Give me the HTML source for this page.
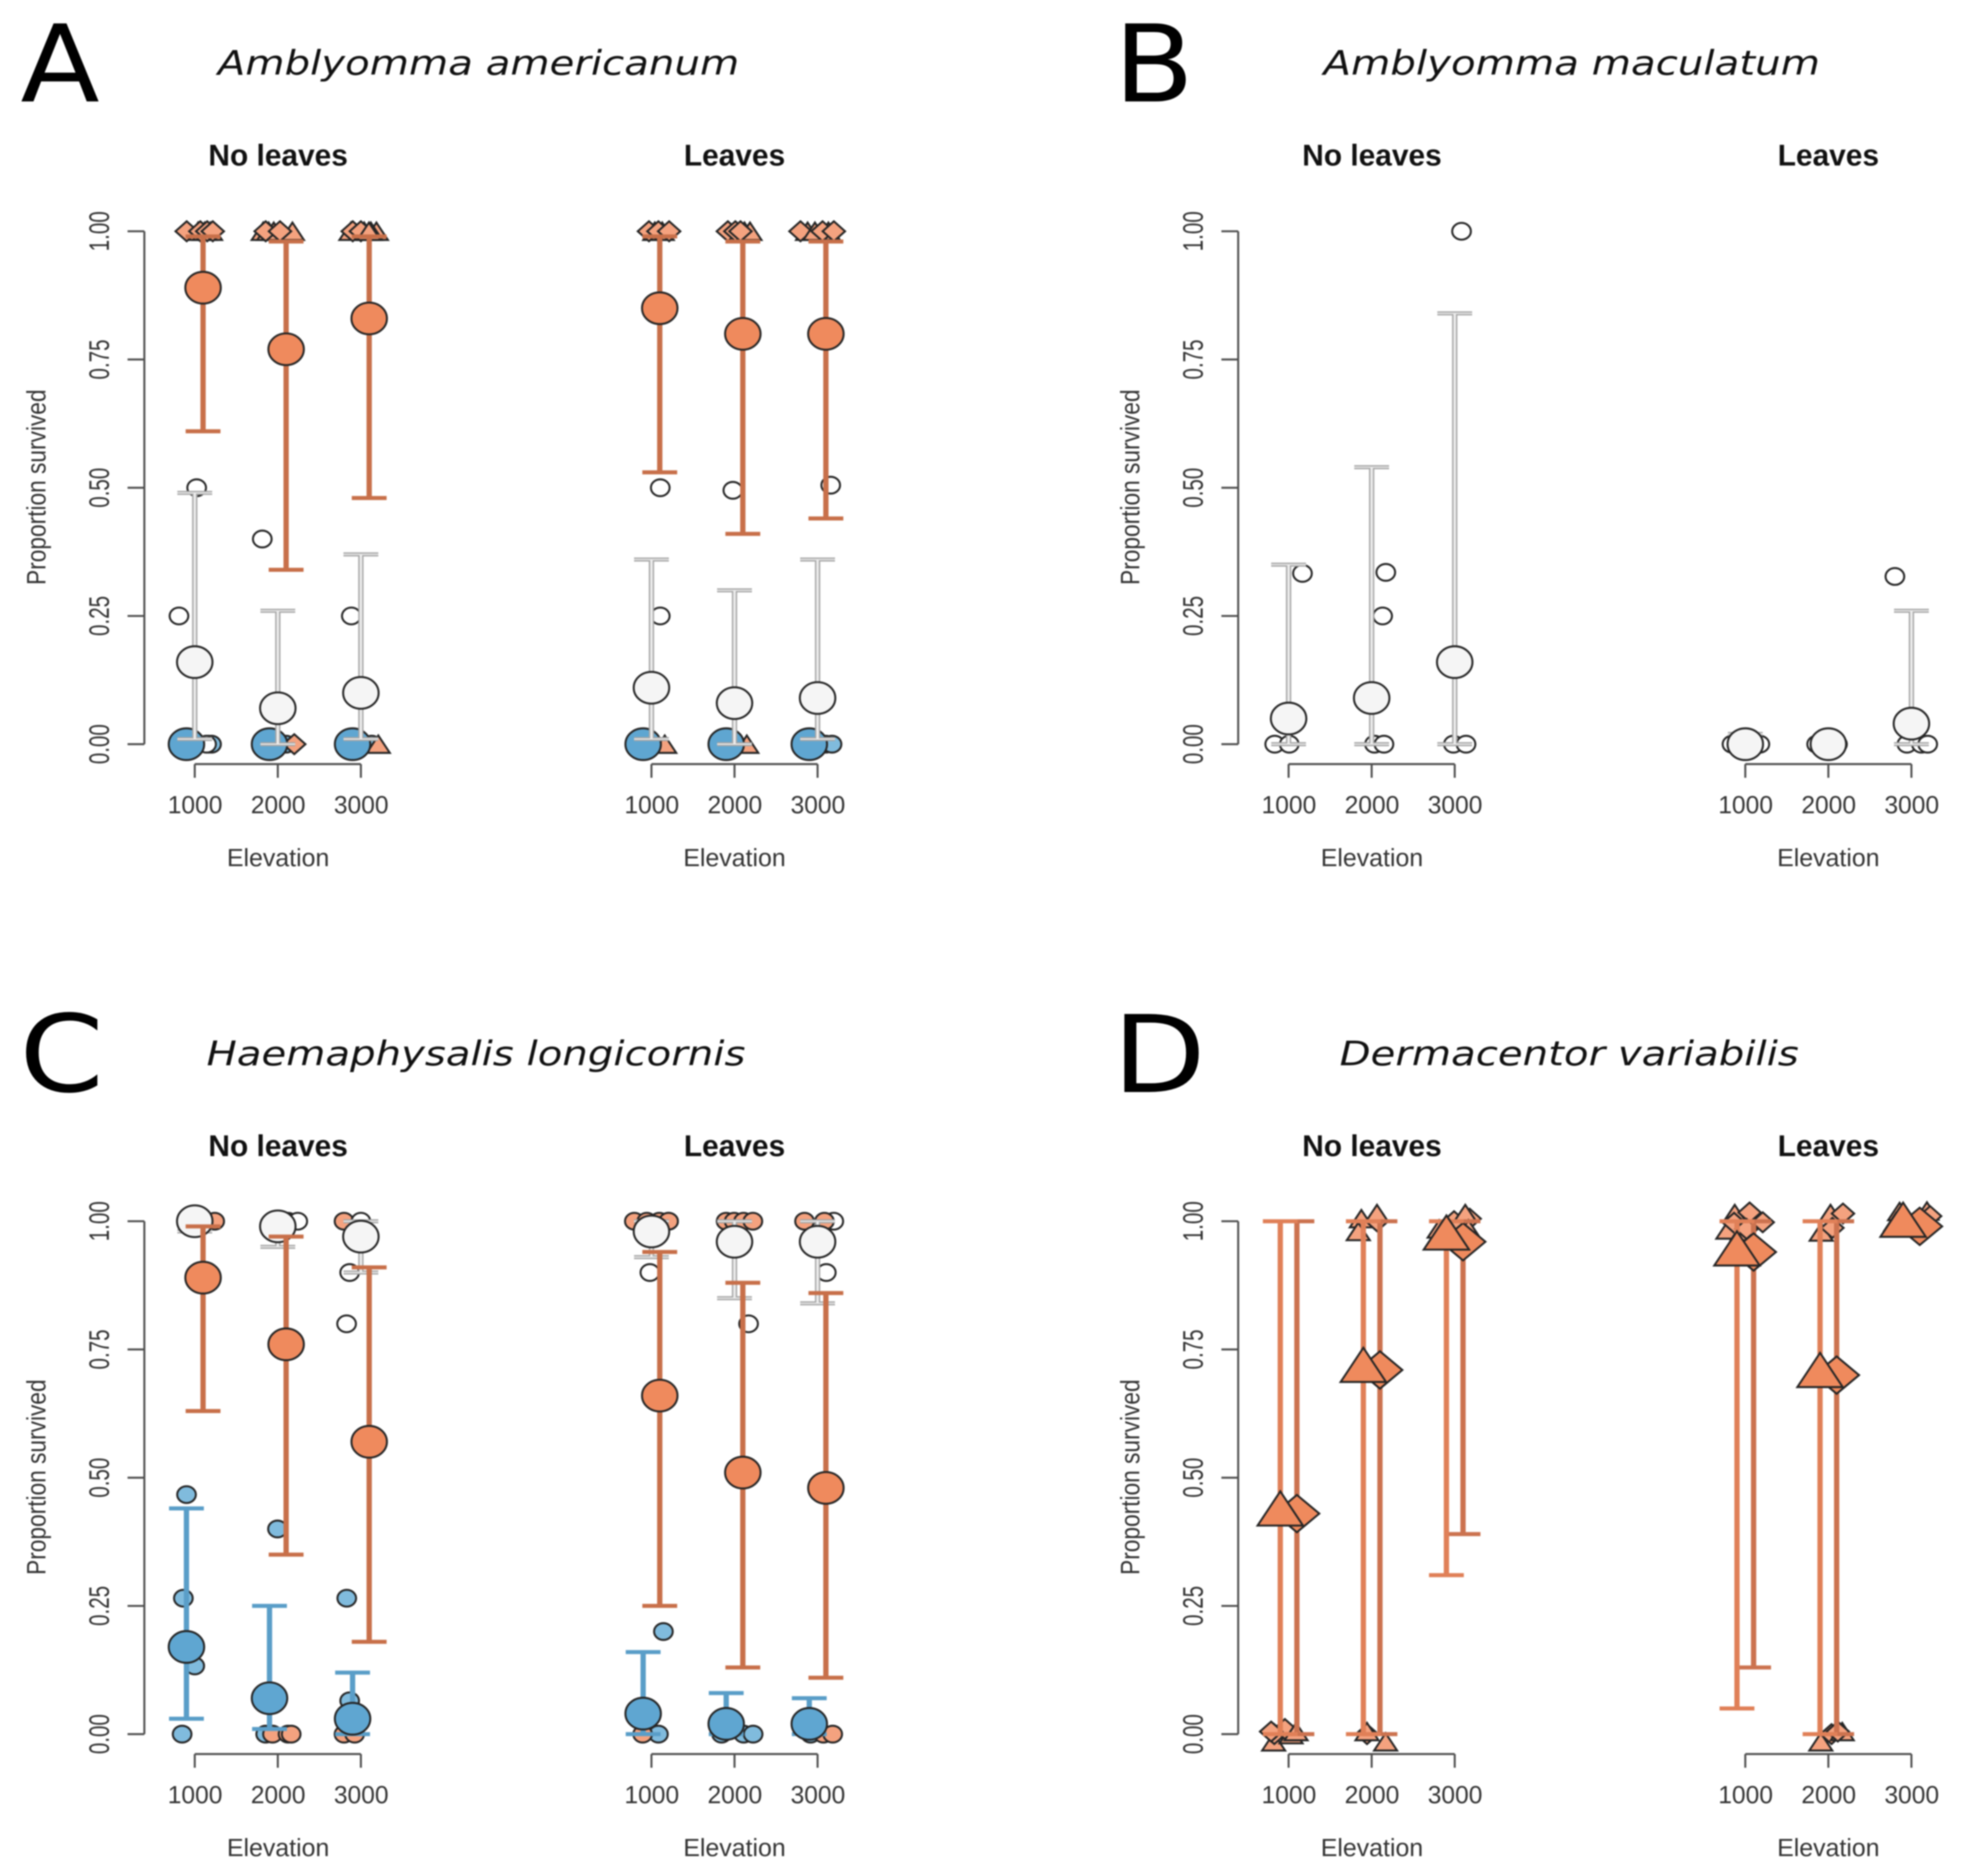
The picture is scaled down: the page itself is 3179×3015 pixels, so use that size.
<!DOCTYPE html>
<html lang="en">
<head>
<meta charset="utf-8">
<title>Proportion survived by elevation</title>
<style>
html,body{margin:0;padding:0;background:#fff;}
svg{display:block;filter:blur(1px);}
.letter{font-family:"DejaVu Sans",sans-serif;font-size:172px;fill:#000;}
.species{font-family:"DejaVu Sans",sans-serif;font-style:italic;font-size:54px;fill:#111;}
.sub{font-family:"Liberation Sans",sans-serif;font-weight:bold;font-size:48px;fill:#111;text-anchor:middle;}
.xt{font-family:"Liberation Sans",sans-serif;font-size:39.5px;fill:#333;text-anchor:middle;}
.yt{font-family:"Liberation Sans",sans-serif;font-size:38px;fill:#333;text-anchor:middle;}
.yl{font-family:"Liberation Sans",sans-serif;font-size:38px;fill:#333;text-anchor:middle;}
.xl{font-family:"Liberation Sans",sans-serif;font-size:40px;fill:#333;text-anchor:middle;}
</style>
</head>
<body>
<svg id="figure" xmlns="http://www.w3.org/2000/svg" width="3179" height="3015" viewBox="0 0 3179 3015">
<rect x="0" y="0" width="3179" height="3015" fill="#ffffff"/>

<text class="letter" x="33" y="163" textLength="127" lengthAdjust="spacingAndGlyphs">A</text>
<text class="letter" x="1790" y="163" textLength="129" lengthAdjust="spacingAndGlyphs">B</text>
<text class="letter" x="31" y="1754" textLength="136" lengthAdjust="spacingAndGlyphs">C</text>
<text class="letter" x="1788" y="1755" textLength="150" lengthAdjust="spacingAndGlyphs">D</text>

<text class="species" x="350" y="120" textLength="838" lengthAdjust="spacingAndGlyphs">Amblyomma americanum</text>
<text class="species" x="2127" y="120" textLength="798" lengthAdjust="spacingAndGlyphs">Amblyomma maculatum</text>
<text class="species" x="332" y="1712" textLength="866" lengthAdjust="spacingAndGlyphs">Haemaphysalis longicornis</text>
<text class="species" x="2153" y="1712" textLength="738" lengthAdjust="spacingAndGlyphs">Dermacentor variabilis</text>

<text class="sub" x="447" y="266">No leaves</text>
<text class="sub" x="1180.5" y="266">Leaves</text>
<text class="sub" x="2205" y="266">No leaves</text>
<text class="sub" x="2938.5" y="266">Leaves</text>
<text class="sub" x="447" y="1858">No leaves</text>
<text class="sub" x="1180.5" y="1858">Leaves</text>
<text class="sub" x="2205" y="1858">No leaves</text>
<text class="sub" x="2938.5" y="1858">Leaves</text>

<text class="yl" transform="translate(73,783) rotate(-90) scale(0.96,1.12)">Proportion survived</text>
<text class="yl" transform="translate(1831,783) rotate(-90) scale(0.96,1.12)">Proportion survived</text>
<text class="yl" transform="translate(73,2374) rotate(-90) scale(0.96,1.12)">Proportion survived</text>
<text class="yl" transform="translate(1831,2374) rotate(-90) scale(0.96,1.12)">Proportion survived</text>

<text class="xl" x="447" y="1392">Elevation</text>
<text class="xl" x="1180.5" y="1392">Elevation</text>
<text class="xl" x="2205" y="1392">Elevation</text>
<text class="xl" x="2938.5" y="1392">Elevation</text>
<text class="xl" x="447" y="2983">Elevation</text>
<text class="xl" x="1180.5" y="2983">Elevation</text>
<text class="xl" x="2205" y="2983">Elevation</text>
<text class="xl" x="2938.5" y="2983">Elevation</text>
</svg>

<script>
// ---------- axis tick values ----------
const elevations = [1000, 2000, 3000];
const elevationLabels = ["1000", "2000", "3000"];
const yTicks = [0, 0.25, 0.5, 0.75, 1];
const yTickLabels = ["0.00", "0.25", "0.50", "0.75", "1.00"];

// ---------- Panel A, No leaves ----------
const aNoBlueMean = [0, 0, 0];
const aNoBlueLow = [0, 0, 0];
const aNoBlueHigh = [0, 0, 0];
const aNoWhiteMean = [0.16, 0.07, 0.10];
const aNoWhiteLow = [0.01, 0, 0.01];
const aNoWhiteHigh = [0.49, 0.26, 0.37];
const aNoOrangeMean = [0.89, 0.77, 0.83];
const aNoOrangeLow = [0.61, 0.34, 0.48];
const aNoOrangeHigh = [0.99, 0.98, 0.99];
const aNoPoints = [
  [1165, 0, "blue", "circle"], [1202, 0, "blue", "circle"], [2100, 0, "blue", "circle"], [3130, 0, "blue", "circle"],
  [1142, 0, "white", "circle"], [1023, 0.5, "white", "circle"], [810, 0.25, "white", "circle"],
  [1813, 0.4, "white", "circle"], [2885, 0.25, "white", "circle"],
  [1040, 1, "orange", "triangle"], [1120, 1, "orange", "triangle"], [1190, 1, "orange", "triangle"],
  [903, 1, "orange", "diamond"], [1067, 1, "orange", "diamond"],
  [1150, 1, "orange", "diamond"], [1217, 1, "orange", "diamond"],
  [1824, 1, "orange", "triangle"], [1951, 1, "orange", "triangle"], [1890, 1, "orange", "triangle"], [1854, 1, "orange", "diamond"],
  [2176, 1, "orange", "triangle"], [2026, 1, "orange", "diamond"],
  [2880, 1, "orange", "triangle"], [3040, 1, "orange", "triangle"], [3187, 1, "orange", "triangle"],
  [3120, 1, "orange", "triangle"], [2902, 1, "orange", "diamond"], [3000, 1, "orange", "diamond"], [3097, 1, "orange", "triangle"],
  [2198, 0, "orange", "diamond"], [3210, 0, "orange", "triangle"]
];

// ---------- Panel A, Leaves ----------
const aLeafBlueMean = [0, 0, 0];
const aLeafBlueLow = [0, 0, 0];
const aLeafBlueHigh = [0, 0, 0];
const aLeafWhiteMean = [0.11, 0.08, 0.09];
const aLeafWhiteLow = [0.01, 0, 0.01];
const aLeafWhiteHigh = [0.36, 0.30, 0.36];
const aLeafOrangeMean = [0.85, 0.80, 0.80];
const aLeafOrangeLow = [0.53, 0.41, 0.44];
const aLeafOrangeHigh = [0.99, 0.98, 0.98];
const aLeafPoints = [
  [3098, 0, "blue", "circle"], [3174, 0, "blue", "circle"],
  [1106, 0.5, "white", "circle"], [1106, 0.25, "white", "circle"], [1980, 0.495, "white", "circle"], [3158, 0.505, "white", "circle"],
  [1040, 1, "orange", "triangle"], [1130, 1, "orange", "triangle"], [970, 1, "orange", "diamond"], [1084, 1, "orange", "diamond"], [1213, 1, "orange", "diamond"],
  [2120, 1, "orange", "triangle"], [2186, 1, "orange", "triangle"], [1920, 1, "orange", "diamond"], [2010, 1, "orange", "diamond"], [2072, 1, "orange", "diamond"],
  [2880, 1, "orange", "triangle"], [3130, 1, "orange", "triangle"], [2794, 1, "orange", "diamond"], [2968, 1, "orange", "triangle"], [3060, 1, "orange", "diamond"], [3196, 1, "orange", "diamond"],
  [1160, 0, "orange", "triangle"], [2148, 0, "orange", "triangle"]
];

// ---------- Panel B, No leaves ----------
const bNoWhiteMean = [0.05, 0.09, 0.16];
const bNoWhiteLow = [0, 0, 0];
const bNoWhiteHigh = [0.35, 0.54, 0.84];
const bNoPoints = [
  [1167, 0.333, "white", "circle"], [833, 0, "white", "circle"], [1008, 0, "white", "circle"],
  [2170, 0.335, "white", "circle"], [2132, 0.25, "white", "circle"], [2034, 0, "white", "circle"], [2148, 0, "white", "circle"],
  [3082, 1, "white", "circle"], [2984, 0, "white", "circle"], [3136, 0, "white", "circle"]
];

// ---------- Panel B, Leaves ----------
const bLeafWhiteMean = [0, 0, 0.04];
const bLeafWhiteLow = [0, 0, 0];
const bLeafWhiteHigh = [0.02, 0, 0.26];
const bLeafPoints = [
  [840, 0, "white", "circle"], [1175, 0, "white", "circle"], [1859, 0, "white", "circle"], [2110, 0, "white", "circle"],
  [2801, 0.327, "white", "circle"], [2946, 0, "white", "circle"], [3120, 0, "white", "circle"], [3196, 0, "white", "circle"]
];

// ---------- Panel C, No leaves ----------
const cNoBlueMean = [0.17, 0.07, 0.03];
const cNoBlueLow = [0.03, 0.01, 0];
const cNoBlueHigh = [0.44, 0.25, 0.12];
const cNoWhiteMean = [1, 0.99, 0.97];
const cNoWhiteLow = [0.98, 0.95, 0.90];
const cNoWhiteHigh = [1, 1, 1];
const cNoOrangeMean = [0.89, 0.76, 0.57];
const cNoOrangeLow = [0.63, 0.35, 0.18];
const cNoOrangeHigh = [0.99, 0.97, 0.91];
const cNoPoints = [
  [901, 0.467, "blue", "circle"], [863, 0.265, "blue", "circle"], [1000, 0.133, "blue", "circle"], [848, 0, "blue", "circle"],
  [1996, 0.40, "blue", "circle"], [1854, 0, "blue", "circle"], [2865, 0.065, "blue", "circle"], [2830, 0.265, "blue", "circle"],
  [1240, 1, "orange", "circle"], [2123, 1, "orange", "circle"], [2797, 1, "orange", "circle"],
  [2240, 1, "white", "circle"], [3000, 1, "white", "circle"], [2865, 0.90, "white", "circle"], [2828, 0.80, "white", "circle"],
  [1936, 0, "orange", "circle"], [2123, 0, "orange", "circle"], [2161, 0, "orange", "circle"],
  [2797, 0, "orange", "circle"], [2925, 0, "orange", "circle"]
];

// ---------- Panel C, Leaves ----------
const cLeafBlueMean = [0.04, 0.02, 0.02];
const cLeafBlueLow = [0, 0, 0];
const cLeafBlueHigh = [0.16, 0.08, 0.07];
const cLeafWhiteMean = [0.98, 0.96, 0.96];
const cLeafWhiteLow = [0.93, 0.85, 0.84];
const cLeafWhiteHigh = [1, 1, 1];
const cLeafOrangeMean = [0.66, 0.51, 0.48];
const cLeafOrangeLow = [0.25, 0.13, 0.11];
const cLeafOrangeHigh = [0.94, 0.88, 0.86];
const cLeafPoints = [
  [1144, 0.20, "blue", "circle"], [1084, 0, "blue", "circle"], [1844, 0, "blue", "circle"], [2110, 0, "blue", "circle"], [2224, 0, "blue", "circle"],
  [2916, 0, "blue", "circle"],
  [1206, 1, "white", "circle"], [981, 0.90, "white", "circle"], [2169, 0.80, "white", "circle"], [3195, 1, "white", "circle"], [3105, 0.90, "white", "circle"],
  [794, 1, "orange", "circle"], [944, 1, "orange", "circle"], [1094, 1, "orange", "circle"], [1206, 1, "orange", "circle"],
  [1899, 1, "orange", "circle"], [1996, 1, "orange", "circle"], [2109, 1, "orange", "circle"], [2221, 1, "orange", "circle"],
  [2843, 1, "orange", "circle"], [3082, 1, "orange", "circle"],
  [894, 0, "orange", "circle"], [3070, 0, "orange", "circle"], [3182, 0, "orange", "circle"]
];

// ---------- Panel D, No leaves ----------
const dNoTriangleMean = [0.44, 0.72, 0.978];
const dNoTriangleLow = [0, 0, 0.31];
const dNoTriangleHigh = [1, 1, 1];
const dNoDiamondMean = [0.43, 0.71, 0.96];
const dNoDiamondLow = [0, 0, 0.39];
const dNoDiamondHigh = [1, 1, 1];
const dNoPoints = [
  [820, -0.015, "orange", "triangle"], [828, 0, "orange", "diamond"], [1030, -0.001, "orange", "triangle"],
  [955, 0.01, "orange", "diamond"], [1090, 0.005, "orange", "triangle"], [790, 0.005, "orange", "diamond"],
  [1944, 0, "orange", "diamond"], [2168, -0.015, "orange", "triangle"], [1944, 0.005, "orange", "triangle"],
  [1876, 1.005, "orange", "triangle"], [1839, 0.98, "orange", "triangle"], [2064, 1, "orange", "diamond"], [2064, 1.015, "orange", "triangle"],
  [2992, 1, "orange", "diamond"], [3180, 1.005, "orange", "diamond"], [3127, 1.015, "orange", "triangle"],
  [2813, 0.985, "orange", "triangle"], [3165, 0.985, "orange", "triangle"]
];

// ---------- Panel D, Leaves ----------
const dLeafTriangleMean = [0.947, 0.71, 1.003];
const dLeafTriangleLow = [0.05, 0, null];
const dLeafTriangleHigh = [1, 1, null];
const dLeafDiamondMean = [0.94, 0.70, 0.99];
const dLeafDiamondLow = [0.13, 0, null];
const dLeafDiamondHigh = [1, 1, null];
const dLeafPoints = [
  [873, 1.015, "orange", "triangle"], [1052, 1.017, "orange", "diamond"], [790, 0.983, "orange", "triangle"],
  [865, 0.997, "orange", "diamond"], [963, 0.98, "orange", "triangle"], [1015, 0.985, "orange", "diamond"], [1210, 0.998, "orange", "diamond"],
  [2026, 1.015, "orange", "triangle"], [2176, 1.015, "orange", "diamond"], [1914, 0.979, "orange", "triangle"], [2049, 0.987, "orange", "diamond"],
  [2858, 1.019, "orange", "triangle"], [3097, 0.975, "orange", "diamond"], [3187, 1.02, "orange", "triangle"],
  [2813, 0.999, "orange", "triangle"], [3225, 1.01, "orange", "diamond"],
  [1909, -0.015, "orange", "triangle"], [2038, 0, "orange", "diamond"], [2167, 0.005, "orange", "triangle"], [2114, 0.005, "orange", "diamond"]
];

// ---------- colour styling ----------
const palette = {
  blue:      {mean: "#5fa6d1", point: "#80bbdd", stem: "#5a9ec8"},
  white:     {mean: "#f5f5f5", point: "#ffffff", stem: "#a6a6a6", core: "#ececec"},
  orange:    {mean: "#ef8a5d", point: "#f4a27f", stem: "#c8704a"},
  peach:     {mean: "#ef8a5d", point: "#f4a27f", stem: "#e08058"},
  peachDark: {mean: "#ef8a5d", point: "#f4a27f", stem: "#cc7350"}
};

// ---------- subplot layout: which arrays feed which axes ----------
const subplots = [
  {id: "a-no-leaves", origin: 313, zero: 1196, yAxis: 232, points: aNoPoints, series: [
    {name: "blue", color: "blue", shape: "circle", dodge: -100, mean: aNoBlueMean, low: aNoBlueLow, high: aNoBlueHigh},
    {name: "white", color: "white", shape: "circle", dodge: 0, mean: aNoWhiteMean, low: aNoWhiteLow, high: aNoWhiteHigh},
    {name: "orange", color: "orange", shape: "circle", dodge: 100, mean: aNoOrangeMean, low: aNoOrangeLow, high: aNoOrangeHigh}]},
  {id: "a-leaves", origin: 1047, zero: 1196, yAxis: null, points: aLeafPoints, series: [
    {name: "blue", color: "blue", shape: "circle", dodge: -100, mean: aLeafBlueMean, low: aLeafBlueLow, high: aLeafBlueHigh},
    {name: "white", color: "white", shape: "circle", dodge: 0, mean: aLeafWhiteMean, low: aLeafWhiteLow, high: aLeafWhiteHigh},
    {name: "orange", color: "orange", shape: "circle", dodge: 100, mean: aLeafOrangeMean, low: aLeafOrangeLow, high: aLeafOrangeHigh}]},
  {id: "b-no-leaves", origin: 2071, zero: 1196, yAxis: 1990, points: bNoPoints, series: [
    {name: "white", color: "white", shape: "circle", dodge: 0, mean: bNoWhiteMean, low: bNoWhiteLow, high: bNoWhiteHigh}]},
  {id: "b-leaves", origin: 2805, zero: 1196, yAxis: null, points: bLeafPoints, series: [
    {name: "white", color: "white", shape: "circle", dodge: 0, mean: bLeafWhiteMean, low: bLeafWhiteLow, high: bLeafWhiteHigh}]},
  {id: "c-no-leaves", origin: 313, zero: 2787, yAxis: 232, points: cNoPoints, series: [
    {name: "blue", color: "blue", shape: "circle", dodge: -100, mean: cNoBlueMean, low: cNoBlueLow, high: cNoBlueHigh},
    {name: "white", color: "white", shape: "circle", dodge: 0, mean: cNoWhiteMean, low: cNoWhiteLow, high: cNoWhiteHigh},
    {name: "orange", color: "orange", shape: "circle", dodge: 100, mean: cNoOrangeMean, low: cNoOrangeLow, high: cNoOrangeHigh}]},
  {id: "c-leaves", origin: 1047, zero: 2787, yAxis: null, points: cLeafPoints, series: [
    {name: "blue", color: "blue", shape: "circle", dodge: -100, mean: cLeafBlueMean, low: cLeafBlueLow, high: cLeafBlueHigh},
    {name: "white", color: "white", shape: "circle", dodge: 0, mean: cLeafWhiteMean, low: cLeafWhiteLow, high: cLeafWhiteHigh},
    {name: "orange", color: "orange", shape: "circle", dodge: 100, mean: cLeafOrangeMean, low: cLeafOrangeLow, high: cLeafOrangeHigh}]},
  {id: "d-no-leaves", origin: 2071, zero: 2787, yAxis: 1990, points: dNoPoints, series: [
    {name: "diamond", color: "peachDark", shape: "diamond", dodge: 100, mean: dNoDiamondMean, low: dNoDiamondLow, high: dNoDiamondHigh},
    {name: "triangle", color: "peach", shape: "triangle", dodge: -100, mean: dNoTriangleMean, low: dNoTriangleLow, high: dNoTriangleHigh}]},
  {id: "d-leaves", origin: 2805, zero: 2787, yAxis: null, points: dLeafPoints, series: [
    {name: "diamond", color: "peachDark", shape: "diamond", dodge: 100, mean: dLeafDiamondMean, low: dLeafDiamondLow, high: dLeafDiamondHigh},
    {name: "triangle", color: "peach", shape: "triangle", dodge: -100, mean: dLeafTriangleMean, low: dLeafTriangleLow, high: dLeafTriangleHigh}]}
];

const SVGNS = "http://www.w3.org/2000/svg";
const figure = document.getElementById("figure");
const PX_PER_ELEVATION = 0.1335;
const PX_PER_PROPORTION = 824.3;
const AXIS_COLOR = "#4f4f4f";
const OUTLINE = "#262626";

function make(tag, attrs, parent) {
  const el = document.createElementNS(SVGNS, tag);
  for (const k in attrs) el.setAttribute(k, attrs[k]);
  parent.appendChild(el);
  return el;
}

function drawMarker(parent, shape, cx, cy, large, fill, label) {
  let el;
  if (shape === "circle") {
    el = make("ellipse", {cx: cx, cy: cy, rx: large ? 28.5 : 15, ry: large ? 25.5 : 13.5, fill: fill, stroke: OUTLINE, "stroke-width": 3.2}, parent);
  } else if (shape === "triangle") {
    const w = large ? 36.5 : 18.5, h = large ? 27.5 : 14;
    el = make("polygon", {points: (cx - w) + "," + (cy + h) + " " + (cx + w) + "," + (cy + h) + " " + cx + "," + (cy - h), fill: fill, stroke: OUTLINE, "stroke-width": 3.2, "stroke-linejoin": "miter"}, parent);
  } else {
    const w = large ? 36 : 18, h = large ? 30 : 16;
    el = make("polygon", {points: (cx - w) + "," + cy + " " + cx + "," + (cy - h) + " " + (cx + w) + "," + cy + " " + cx + "," + (cy + h), fill: fill, stroke: OUTLINE, "stroke-width": 3.2}, parent);
  }
  
  
  return el;
}

function drawInterval(parent, x, yLow, yHigh, style, label) {
  const g = make("g", {}, parent);
  
  
  const segments = [[x, yHigh, x, yLow, 8.5], [x - 28, yHigh, x + 28, yHigh, 6.5], [x - 28, yLow, x + 28, yLow, 6.5]];
  segments.forEach(function (s) {
    make("line", {x1: s[0], y1: s[1], x2: s[2], y2: s[3], stroke: style.stem, "stroke-width": s[4], "stroke-linecap": "butt"}, g);
  });
  if (style.core) {
    segments.forEach(function (s) {
      make("line", {x1: s[0], y1: s[1], x2: s[2], y2: s[3], stroke: style.core, "stroke-width": s[4] - 4.5}, g);
    });
  }
}

subplots.forEach(function (plot) {
  const xScale = function (e) { return plot.origin + (e - 1000) * PX_PER_ELEVATION; };
  const yScale = function (v) { return plot.zero - v * PX_PER_PROPORTION; };
  const group = make("g", {}, figure);
  
  

  // y axis
  if (plot.yAxis !== null) {
    const yAxisGroup = make("g", {stroke: AXIS_COLOR, "stroke-width": 3.2, fill: "none"}, group);
    
    
    make("line", {x1: plot.yAxis, x2: plot.yAxis, y1: yScale(yTicks[0]), y2: yScale(yTicks[yTicks.length - 1])}, yAxisGroup);
    yTicks.forEach(function (t, i) {
      make("line", {x1: plot.yAxis - 27, x2: plot.yAxis, y1: yScale(t), y2: yScale(t)}, yAxisGroup);
      const lbl = make("text", {"class": "yt", stroke: "none", transform: "translate(" + (plot.yAxis - 57) + "," + yScale(t) + ") rotate(-90) scale(0.87,1.2)"}, group);
      
      
      lbl.textContent = yTickLabels[i];
    });
  }

  // x axis
  const axisY = plot.zero + 32;
  const xAxisGroup = make("g", {stroke: AXIS_COLOR, "stroke-width": 3.2, fill: "none"}, group);
  
  
  make("line", {x1: xScale(elevations[0]), x2: xScale(elevations[elevations.length - 1]), y1: axisY, y2: axisY}, xAxisGroup);
  elevations.forEach(function (e, i) {
    make("line", {x1: xScale(e), x2: xScale(e), y1: axisY, y2: axisY + 22}, xAxisGroup);
    const lbl = make("text", {"class": "xt", x: xScale(e) + 0.5, y: plot.zero + 111}, group);
    
    
    lbl.textContent = elevationLabels[i];
  });

  // raw observations sit behind the summaries
  plot.points.forEach(function (p) {
    const c = palette[p[2]];
    drawMarker(group, p[3], xScale(p[0]), yScale(p[1]), false, c.point, 'point-' + p[2]);
  });

  // each series paints its interval, then its mean, over earlier series
  plot.series.forEach(function (s) {
    const style = palette[s.color];
    elevations.forEach(function (e, i) {
      const x = xScale(e + s.dodge);
      if (s.low[i] !== null && s.high[i] !== null) {
        drawInterval(group, x, yScale(s.low[i]), yScale(s.high[i]), style, 'error-bar-' + s.name);
      }
      drawMarker(group, s.shape, x, yScale(s.mean[i]), true, style.mean, 'mean-' + s.name);
    });
  });
});
</script>
</body>
</html>
